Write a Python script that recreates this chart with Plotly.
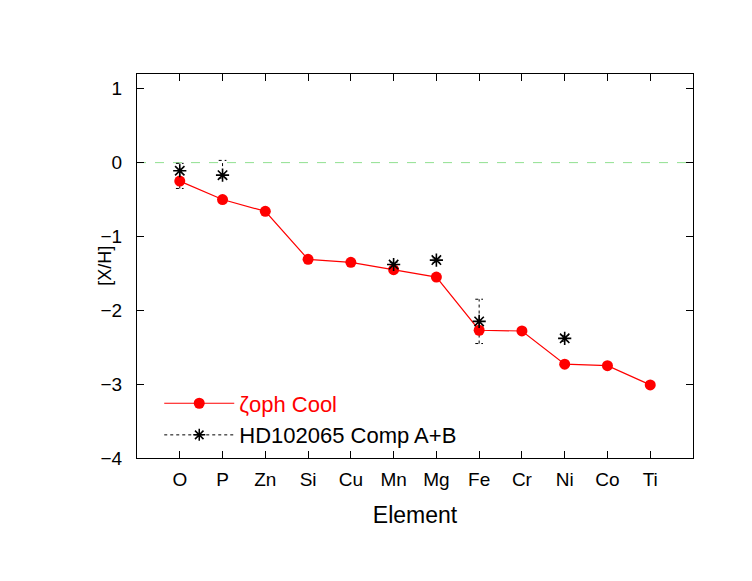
import plotly.graph_objects as go

## Data:
# ======================================
elements = ['O', 'P', 'Zn', 'Si', 'Cu', 'Mn', 'Mg', 'Fe', 'Cr', 'Ni', 'Co', 'Ti']
zoph_cool = [-0.25, -0.50, -0.66, -1.31, -1.35, -1.45, -1.55, -2.27, -2.28, -2.73, -2.75, -3.01]

hd_elements = ['O', 'P', 'Mn', 'Mg', 'Fe', 'Ni']
hd_values = [-0.11, -0.17, -1.38, -1.32, -2.15, -2.38]
hd_err_plus = [0.10, 0.20, 0.03, 0.03, 0.30, 0.04]
hd_err_minus = [0.24, 0.04, 0.03, 0.03, 0.30, 0.04]

y_ticks = [1, 0, -1, -2, -3, -4]

FONT = 'Liberation Sans, Arial, sans-serif'
cap = 0.09

fig = go.Figure()

## Nul-lijn:
# --------------------------------------
fig.add_shape(type='line', xref='paper', yref='y', x0=0, x1=1, y0=0, y1=0,
              line=dict(color='#90e090', width=1, dash='dash'), layer='below')

## Foutbalken HD102065 (gestippeld):
# --------------------------------------
idx = {e: i for i, e in enumerate(elements)}
ex, ey = [], []
for e, v, p, m in zip(hd_elements, hd_values, hd_err_plus, hd_err_minus):
    xi = idx[e]
    ex += [xi, xi, None, xi - cap, xi + cap, None, xi - cap, xi + cap, None]
    ey += [v - m, v + p, None, v + p, v + p, None, v - m, v - m, None]

fig.add_trace(go.Scatter(
    x=ex, y=ey, mode='lines',
    line=dict(color='black', width=1, dash='dot'),
    hoverinfo='none', showlegend=False,
))

## zeta oph Cool:
# --------------------------------------
fig.add_trace(go.Scatter(
    x=[idx[e] for e in elements], y=zoph_cool,
    mode='lines+markers',
    line=dict(color='red', width=1.2),
    marker=dict(color='red', size=11, symbol='circle'),
    name="<span style='color:red'>ζoph Cool</span>",
))

## HD102065:
# --------------------------------------
fig.add_trace(go.Scatter(
    x=[idx[e] for e in hd_elements], y=hd_values,
    mode='markers',
    marker=dict(color='black', size=11, symbol='asterisk-open',
                line=dict(color='black', width=1.6)),
    showlegend=False,
))
# legend-item
fig.add_trace(go.Scatter(
    x=[None], y=[None],
    mode='lines+markers',
    line=dict(color='black', width=1, dash='dot'),
    marker=dict(color='black', size=10, symbol='asterisk-open',
                line=dict(color='black', width=1.5)),
    name='HD102065 Comp A+B',
))

## Y-as titel (los geplaatst zoals in gnuplot):
# --------------------------------------
fig.add_annotation(text='[X/H]', xref='paper', yref='paper',
                   x=-0.058, y=0.5, xanchor='center', yanchor='middle',
                   textangle=-90, showarrow=False, font=dict(size=18))

## Layout:
# --------------------------------------
fig.update_layout(
    width=752, height=581,
    margin=dict(l=129, r=67, t=66, b=131),
    plot_bgcolor='white', paper_bgcolor='white',
    font=dict(family=FONT, size=19, color='black'),
    legend=dict(x=0.04, y=0.004, xanchor='left', yanchor='bottom',
                bgcolor='rgba(0,0,0,0)', font=dict(size=22),
                itemwidth=70, tracegroupgap=24),
    xaxis=dict(
        range=[-1, 12],
        tickvals=list(range(len(elements))), ticktext=elements,
        ticks='inside', ticklen=7, tickcolor='black',
        showline=True, linecolor='black', linewidth=1, mirror='ticks',
        showgrid=False, zeroline=False, ticklabelstandoff=4,
        title=dict(text='Element', standoff=18),
    ),
    yaxis=dict(
        range=[-4, 1.2],
        tickvals=y_ticks,
        ticks='inside', ticklen=7, tickcolor='black',
        showline=True, linecolor='black', linewidth=1, mirror='ticks',
        showgrid=False, zeroline=False, ticklabelstandoff=10,
    ),
)

fig.write_html("out.html")
